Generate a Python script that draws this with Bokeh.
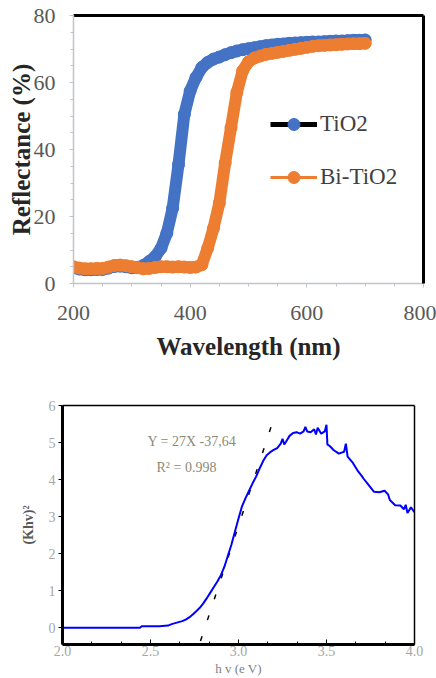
import math
from bokeh.plotting import figure
from bokeh.models import (Range1d, LinearAxis, SingleIntervalTicker, FixedTicker,
                          Legend, LegendItem, Label, PrintfTickFormatter)
from bokeh.embed import file_html
from bokeh.resources import INLINE

# ---------------- data: reflectance spectra ----------------
wavelength = [200, 210, 220, 230, 240, 250, 260, 270, 280, 290,
              300, 310, 320, 330, 340, 350, 360, 370, 380, 390,
              400, 410, 420, 430, 440, 450, 460, 470, 480, 490,
              500, 510, 520, 530, 540, 550, 560, 570, 580, 590,
              600, 610, 620, 630, 640, 650, 660, 670, 680, 690, 700]
tio2 = [4.7, 4.3, 4.1, 4.1, 4.2, 4.2, 4.6, 5.1, 5.2, 5.0,
        4.7, 4.8, 5.4, 6.6, 8.0, 10.5, 15.0, 22.5, 35.5, 50.5,
        57.5, 61.5, 64.5, 66.0, 67.0, 67.6, 68.3, 68.9, 69.4, 69.8,
        70.1, 70.4, 70.7, 71.0, 71.2, 71.4, 71.5, 71.7, 71.8, 71.9,
        72.0, 72.1, 72.1, 72.2, 72.3, 72.4, 72.4, 72.5, 72.6, 72.6, 72.7]
bi_tio2 = [5.0, 4.6, 4.4, 4.4, 4.5, 4.5, 4.9, 5.4, 5.5, 5.3,
           5.0, 4.7, 4.4, 4.5, 4.8, 5.0, 5.0, 4.9, 5.0, 4.9,
           4.8, 4.9, 5.6, 10.5, 16.5, 24.0, 36.0, 46.5, 57.0, 63.5,
           66.2, 67.3, 67.9, 68.4, 68.7, 69.0, 69.3, 69.6, 69.9, 70.2,
           70.5, 70.8, 71.0, 71.1, 71.2, 71.3, 71.4, 71.5, 71.6, 71.6, 71.7]
series_names = ["TiO2", "Bi-TiO2"]
series_colors = ["#4472C4", "#ED7D31"]

# ---------------- data: Tauc plot ----------------
hv = [2.00, 2.10, 2.20, 2.30, 2.40, 2.44, 2.45, 2.55, 2.60, 2.62,
      2.65, 2.68, 2.70, 2.72, 2.74, 2.76, 2.78, 2.80, 2.82, 2.84,
      2.86, 2.88, 2.90, 2.92, 2.94, 2.96, 2.98, 3.00, 3.02, 3.04,
      3.06, 3.08, 3.10, 3.12, 3.14, 3.16, 3.18, 3.20, 3.22, 3.24,
      3.25, 3.26, 3.27, 3.29, 3.31, 3.33, 3.35, 3.37, 3.38, 3.39,
      3.41, 3.43, 3.44, 3.45, 3.47, 3.49, 3.50, 3.505, 3.52, 3.54,
      3.57, 3.60, 3.61, 3.62, 3.65, 3.68, 3.70, 3.71, 3.74, 3.77,
      3.80, 3.83, 3.85, 3.86, 3.89, 3.92, 3.94, 3.95, 3.96, 3.98, 4.00]
khv2 = [0.00, 0.00, 0.00, 0.00, 0.00, 0.00, 0.04, 0.04, 0.06, 0.10,
        0.14, 0.18, 0.22, 0.28, 0.36, 0.45, 0.54, 0.66, 0.80, 0.95,
        1.10, 1.25, 1.42, 1.65, 1.95, 2.25, 2.60, 2.95, 3.28, 3.50,
        3.70, 3.90, 4.08, 4.30, 4.50, 4.66, 4.74, 4.80, 4.85, 4.97,
        5.10, 4.95, 5.02, 5.18, 5.26, 5.28, 5.24, 5.30, 5.42, 5.30,
        5.28, 5.36, 5.22, 5.40, 5.24, 5.30, 5.48, 4.95, 4.90, 4.80,
        4.70, 4.75, 4.97, 4.62, 4.45, 4.22, 4.10, 4.03, 3.85, 3.67,
        3.66, 3.70, 3.60, 3.45, 3.31, 3.30, 3.20, 3.32, 3.10, 3.25, 3.12]
fit_hv = [2.745, 3.21]
fit_val = [-0.92, 5.78]
fit_text = "Y  = 27X -37,64"
r2_text = "R\u00b2 = 0.998"

SERIF = "Liberation Serif"

# ================= top figure =================
p1 = figure(width=436, height=368, x_range=Range1d(200, 800), y_range=Range1d(0, 80),
            output_backend="svg", toolbar_location=None,
            x_axis_type=None, y_axis_type=None,
            min_border_left=73, min_border_right=13, min_border_top=15, min_border_bottom=85)
p1.outline_line_color = None
p1.background_fill_color = "white"

xa1 = LinearAxis(ticker=SingleIntervalTicker(interval=200, num_minor_ticks=4),
                 axis_label="Wavelength (nm)")
ya1 = LinearAxis(ticker=SingleIntervalTicker(interval=20, num_minor_ticks=4),
                 axis_label="Reflectance (%)")
for ax in (xa1, ya1):
    ax.axis_line_color = "#c0c4cc"
    ax.axis_line_width = 1.5
    ax.major_tick_line_color = "#c0c4cc"
    ax.minor_tick_line_color = "#c0c4cc"
    ax.major_tick_in = 0
    ax.major_tick_out = 4
    ax.minor_tick_in = 0
    ax.minor_tick_out = 3
    ax.major_label_text_font = SERIF
    ax.major_label_text_font_size = "22px"
    ax.major_label_text_color = "#595959"
    ax.axis_label_text_font = SERIF
    ax.axis_label_text_font_style = "bold"
    ax.axis_label_text_font_size = "25px"
    ax.axis_label_text_color = "#262626"
xa1.major_label_standoff = 18
xa1.axis_label_standoff = 10
ya1.major_label_standoff = 14
ya1.axis_label_standoff = -4
p1.add_layout(xa1, "below")
p1.add_layout(ya1, "left")
for side in ("above", "right"):
    b = LinearAxis(ticker=FixedTicker(ticks=[]), axis_line_color="black", axis_line_width=3,
                   major_label_text_font_size="0px")
    p1.add_layout(b, side)

p1.line(wavelength, tio2, line_color=series_colors[0], line_width=12,
        line_join="round", line_cap="round")
p1.scatter(wavelength, tio2, size=12, fill_color=series_colors[0], line_color=series_colors[0])
p1.line(wavelength, bi_tio2, line_color=series_colors[1], line_width=12,
        line_join="round", line_cap="round")
p1.scatter(wavelength, bi_tio2, size=12, fill_color=series_colors[1], line_color=series_colors[1])

nan = float("nan")
lg_line_t = p1.line([nan], [nan], line_color="black", line_width=5)
lg_mark_t = p1.scatter([nan], [nan], fill_color=series_colors[0], line_color=series_colors[0])
lg_line_b = p1.line([nan], [nan], line_color=series_colors[1], line_width=3)
lg_mark_b = p1.scatter([nan], [nan], fill_color=series_colors[1], line_color=series_colors[1])
legend = Legend(items=[LegendItem(label=series_names[0], renderers=[lg_line_t, lg_mark_t]),
                       LegendItem(label=series_names[1], renderers=[lg_line_b, lg_mark_b])],
                location=(197, 91), orientation="vertical",
                glyph_width=47, glyph_height=30, label_height=30, label_standoff=3,
                spacing=23, padding=0, margin=0,
                border_line_color=None, background_fill_alpha=0,
                label_text_font=SERIF, label_text_font_size="23px", label_text_color="#404040")
p1.add_layout(legend, "center")

# ================= bottom figure =================
p2 = figure(width=436, height=310, x_range=Range1d(2.0, 4.0), y_range=Range1d(-0.45, 6.0),
            output_backend="svg", toolbar_location=None,
            x_axis_type=None, y_axis_type=None,
            min_border_left=62, min_border_right=22, min_border_top=37, min_border_bottom=33)
p2.outline_line_color = None

xa2 = LinearAxis(ticker=SingleIntervalTicker(interval=0.5, num_minor_ticks=3),
                 axis_label="h v (e V)", formatter=PrintfTickFormatter(format="%.1f"))
ya2 = LinearAxis(ticker=SingleIntervalTicker(interval=1, num_minor_ticks=0),
                 axis_label="(Khv)\u00b2")
for ax in (xa2, ya2):
    ax.axis_line_color = "black"
    ax.axis_line_width = 3
    ax.major_tick_line_color = "black"
    ax.minor_tick_line_color = "black"
    ax.major_label_text_font = SERIF
    ax.major_label_text_font_size = "14px"
    ax.major_label_text_color = "#a6a6a6"
    ax.axis_label_text_font = SERIF
    ax.axis_label_text_font_style = "normal"
    ax.axis_label_text_font_size = "13px"
    ax.axis_label_text_color = "#7f7f7f"
xa2.major_tick_in = 5
xa2.major_tick_out = 0
xa2.minor_tick_in = 3
xa2.minor_tick_out = 0
xa2.major_label_standoff = 1
xa2.axis_label_standoff = 2
ya2.major_tick_in = 0
ya2.major_tick_out = 4
ya2.major_label_standoff = 3
ya2.axis_label_standoff = 10
ya2.axis_label_text_font_style = "bold"
ya2.axis_label_text_font_size = "14px"
ya2.axis_label_text_color = "#595959"
p2.add_layout(xa2, "below")
p2.add_layout(ya2, "left")
for side in ("above", "right"):
    b = LinearAxis(ticker=FixedTicker(ticks=[]), axis_line_color="black", axis_line_width=1.5,
                   major_label_text_font_size="0px")
    p2.add_layout(b, side)

p2.line(fit_hv, fit_val, line_color="black", line_width=1.5, line_dash="5 17")
p2.line(hv, khv2, line_color="#0000ff", line_width=2)

p2.add_layout(Label(x=85, y=203, x_units="screen", y_units="screen", text=fit_text,
                    text_font=SERIF, text_font_size="14px", text_color="#8c8a78",
                    text_baseline="middle"))
p2.add_layout(Label(x=94, y=177, x_units="screen", y_units="screen", text=r2_text,
                    text_font=SERIF, text_font_size="14px", text_color="#8c8a78",
                    text_baseline="middle"))

open("out.html", "w").write(file_html([p1, p2], INLINE))
